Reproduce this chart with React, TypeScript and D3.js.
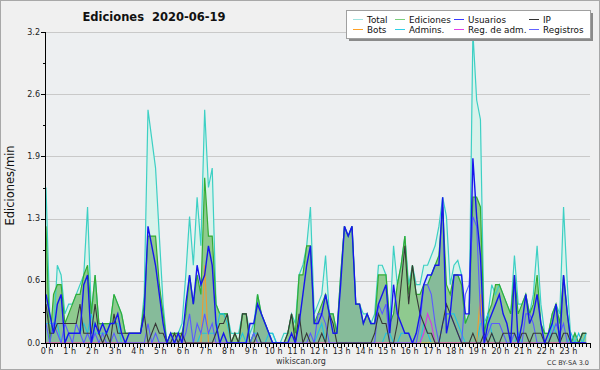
import React from "react";
import * as d3 from "d3";

// 10-minute bins, 144 per day (values in edits/min)
const TOTAL = [
  1.6, 0.3, 0.1, 0.8, 0.7, 0.3,
  0.4, 0.4, 0.5, 0.6, 0.7, 1.4,
  0.3, 0.7, 0.2, 0.2, 0.2, 0.2,
  0.5, 0.4, 0.3, 0.1, 0.1, 0.1,
  0.1, 0.1, 0.5, 2.4, 2.1, 1.8,
  1.1, 0.4, 0.0, 0.1, 0.1, 0.1,
  0.2, 0.7, 1.3, 0.8, 1.5, 1.0,
  2.4, 1.6, 1.8, 0.4, 0.3, 0.3,
  0.3, 0.1, 0.1, 0.1, 0.3, 0.3,
  0.1, 0.2, 0.5, 0.3, 0.2, 0.1,
  0.1, 0.0, 0.0, 0.1, 0.1, 0.3,
  0.2, 0.7, 0.8, 1.0, 1.4, 0.3,
  0.4, 0.5, 0.9, 0.3, 0.3, 0.1,
  0.7, 1.2, 1.1, 1.2, 0.4, 0.4,
  0.3, 0.3, 0.2, 0.3, 0.8, 0.8,
  0.7, 0.2, 1.0, 0.6, 0.8, 1.1,
  0.6, 0.8, 0.6, 0.6, 0.8, 0.8,
  0.9, 1.0, 1.2, 1.5, 1.3, 0.6,
  0.8, 0.85, 0.7, 0.2, 0.3, 3.2,
  2.5, 2.3, 0.1, 0.3, 0.6, 0.5,
  0.6, 0.5, 0.4, 0.3, 0.9, 0.4,
  0.4, 0.5, 0.3, 0.5, 1.0, 0.4,
  0.1, 0.1, 0.3, 0.4, 0.3, 1.4,
  0.6, 0.0, 0.1, 0.0, 0.1, 0.1,
];

const EDICIONES = [
  1.2, 0.0, 0.5, 0.6, 0.6, 0.2,
  0.3, 0.4, 0.5, 0.5, 0.7, 0.8,
  0.3, 0.7, 0.2, 0.2, 0.2, 0.2,
  0.5, 0.4, 0.3, 0.1, 0.1, 0.1,
  0.1, 0.1, 0.4, 1.1, 1.1, 1.1,
  0.6, 0.3, 0.0, 0.1, 0.1, 0.1,
  0.1, 0.3, 0.7, 0.4, 0.7, 0.5,
  1.7, 1.1, 1.1, 0.4, 0.3, 0.3,
  0.3, 0.0, 0.1, 0.0, 0.3, 0.3,
  0.0, 0.1, 0.5, 0.3, 0.2, 0.1,
  0.0, 0.0, 0.0, 0.0, 0.1, 0.3,
  0.1, 0.7, 0.7, 1.0, 1.0, 0.2,
  0.3, 0.4, 0.5, 0.3, 0.3, 0.1,
  0.7, 1.2, 1.1, 1.2, 0.4, 0.4,
  0.2, 0.3, 0.2, 0.2, 0.7, 0.7,
  0.7, 0.2, 0.3, 0.6, 0.8, 1.1,
  0.5, 0.8, 0.5, 0.5, 0.6, 0.6,
  0.7, 0.8, 0.9, 1.4, 0.6, 0.5,
  0.7, 0.7, 0.6, 0.2, 0.3, 1.5,
  1.5, 1.4, 0.1, 0.3, 0.4, 0.6,
  0.6, 0.5, 0.4, 0.3, 0.7, 0.3,
  0.4, 0.5, 0.3, 0.4, 0.7, 0.2,
  0.1, 0.1, 0.3, 0.4, 0.2, 0.7,
  0.3, 0.0, 0.1, 0.0, 0.1, 0.1,
];

const USUARIOS = [
  0.5, 0.3, 0.1, 0.4, 0.5, 0.0,
  0.1, 0.1, 0.1, 0.1, 0.6, 0.7,
  0.0, 0.2, 0.1, 0.2, 0.1, 0.2,
  0.2, 0.3, 0.1, 0.0, 0.1, 0.1,
  0.1, 0.1, 0.3, 1.2, 1.0, 0.8,
  0.5, 0.2, 0.0, 0.1, 0.0, 0.1,
  0.0, 0.4, 0.7, 0.4, 0.8, 0.6,
  0.7, 1.0, 0.8, 0.2, 0.0, 0.1,
  0.0, 0.0, 0.0, 0.0, 0.0, 0.0,
  0.2, 0.2, 0.4, 0.3, 0.2, 0.1,
  0.0, 0.0, 0.0, 0.0, 0.0, 0.1,
  0.0, 0.2, 0.5, 0.8, 1.0, 0.2,
  0.2, 0.3, 0.5, 0.3, 0.1, 0.1,
  0.6, 1.2, 1.1, 1.2, 0.4, 0.4,
  0.2, 0.3, 0.2, 0.2, 0.4, 0.5,
  0.6, 0.1, 0.6, 0.3, 0.2, 0.1,
  0.1, 0.0, 0.1, 0.3, 0.6, 0.7,
  0.7, 0.8, 0.8, 1.5, 0.1, 0.3,
  0.7, 0.7, 0.7, 0.3, 0.3, 1.9,
  1.3, 0.9, 0.0, 0.2, 0.3, 0.4,
  0.5, 0.3, 0.2, 0.0, 0.7, 0.0,
  0.2, 0.5, 0.2, 0.3, 0.5, 0.2,
  0.0, 0.1, 0.2, 0.4, 0.0, 0.7,
  0.3, 0.0, 0.0, 0.0, 0.0, 0.0,
];

const IP = [
  0.4, 0.1, 0.1, 0.2, 0.2, 0.2,
  0.2, 0.2, 0.2, 0.4, 0.1, 0.1,
  0.1, 0.4, 0.1, 0.0, 0.1, 0.0,
  0.3, 0.1, 0.1, 0.1, 0.1, 0.1,
  0.1, 0.1, 0.3, 0.0, 0.1, 0.2,
  0.1, 0.1, 0.0, 0.0, 0.1, 0.0,
  0.1, 0.0, 0.0, 0.0, 0.0, 0.0,
  0.0, 0.0, 0.0, 0.1, 0.2, 0.2,
  0.3, 0.0, 0.1, 0.0, 0.3, 0.3,
  0.0, 0.0, 0.1, 0.0, 0.0, 0.0,
  0.0, 0.0, 0.0, 0.0, 0.1, 0.3,
  0.0, 0.3, 0.0, 0.1, 0.0, 0.0,
  0.0, 0.1, 0.0, 0.3, 0.2, 0.0,
  0.0, 0.0, 0.0, 0.0, 0.0, 0.0,
  0.0, 0.0, 0.0, 0.1, 0.3, 0.2,
  0.2, 0.0, 0.0, 0.2, 0.6, 1.0,
  0.4, 0.8, 0.5, 0.3, 0.2, 0.1,
  0.1, 0.0, 0.0, 0.2, 0.4, 0.3,
  0.2, 0.1, 0.0, 0.0, 0.0, 0.1,
  0.0, 0.0, 0.1, 0.0, 0.1, 0.0,
  0.0, 0.1, 0.1, 0.1, 0.1, 0.0,
  0.1, 0.1, 0.0, 0.1, 0.1, 0.1,
  0.0, 0.0, 0.1, 0.1, 0.0, 0.1,
  0.1, 0.0, 0.0, 0.0, 0.1, 0.1,
];

const BOTS = [
  0, 0, 0, 0, 0, 0,
  0, 0, 0, 0, 0, 0,
  0, 0, 0, 0, 0, 0,
  0, 0, 0, 0, 0, 0,
  0, 0, 0, 0, 0, 0,
  0, 0, 0, 0, 0, 0,
  0, 0, 0, 0, 0, 0,
  0.8, 0, 0, 0, 0, 0,
  0, 0, 0, 0, 0, 0,
  0, 0, 0, 0, 0, 0,
  0, 0, 0, 0, 0, 0,
  0, 0, 0, 0, 0, 0,
  0, 0, 0, 0, 0, 0,
  0, 0, 0, 0, 0, 0,
  0, 0, 0, 0, 0, 0,
  0, 0, 0, 0, 0, 0,
  0, 0, 0, 0, 0, 0,
  0, 0, 0, 0, 0, 0,
  0, 0, 0, 0, 0, 0,
  0, 0.5, 0, 0, 0, 0,
  0, 0, 0, 0, 0, 0,
  0, 0, 0, 0, 0, 0,
  0, 0, 0, 0, 0, 0,
  0, 0, 0, 0, 0, 0,
];

const ADMINS = [
  0.2, 0.2, 0.2, 0.2, 0.0, 0.0,
  0.1, 0.1, 0.1, 0.1, 0.2, 0.1,
  0.3, 0.1, 0.1, 0.1, 0.1, 0.2,
  0.2, 0.2, 0.0, 0.0, 0.0, 0.0,
  0, 0, 0, 0, 0, 0,
  0, 0, 0, 0, 0, 0,
  0, 0, 0, 0, 0, 0.1,
  0.1, 0.1, 0.1, 0.1, 0.3, 0.3,
  0.2, 0.0, 0.0, 0.0, 0.1, 0.0,
  0.0, 0.1, 0.1, 0.0, 0.0, 0.1,
  0.1, 0, 0, 0, 0, 0,
  0, 0, 0, 0, 0, 0,
  0.1, 0.2, 0, 0, 0, 0,
  0, 0, 0, 0, 0, 0,
  0, 0, 0, 0, 0, 0,
  0.1, 0.1, 0, 0, 0.1, 0.1,
  0.1, 0, 0, 0, 0.2, 0.1,
  0, 0, 0, 0.2, 0.3, 0.3,
  0.3, 0.2, 0.1, 0, 0, 0,
  0, 0.2, 0.2, 0.3, 0.1, 0,
  0, 0, 0, 0, 0, 0.1,
  0, 0, 0, 0, 0, 0,
  0, 0, 0.2, 0.1, 0, 0,
  0, 0.1, 0, 0.1, 0, 0.1,
];

const REG_ADM = [
  0, 0, 0, 0, 0, 0,
  0, 0, 0, 0, 0, 0,
  0, 0, 0, 0, 0, 0,
  0, 0, 0, 0, 0, 0,
  0, 0, 0, 0, 0, 0,
  0, 0, 0, 0, 0, 0,
  0, 0, 0, 0, 0, 0,
  0, 0, 0, 0, 0, 0,
  0, 0, 0, 0, 0, 0,
  0, 0, 0, 0, 0, 0,
  0, 0, 0, 0, 0, 0,
  0, 0, 0, 0, 0, 0,
  0, 0, 0, 0, 0, 0,
  0, 0, 0, 0, 0, 0,
  0, 0, 0, 0, 0, 0,
  0, 0, 0, 0, 0, 0,
  0, 0, 0, 0, 0.1, 0.3,
  0.2, 0, 0, 0, 0, 0,
  0, 0, 0, 0, 0, 0,
  0, 0, 0, 0, 0, 0,
  0, 0, 0, 0, 0, 0,
  0, 0, 0, 0, 0, 0,
  0, 0, 0, 0, 0, 0,
  0, 0, 0, 0, 0, 0,
];

const REGISTROS = [
  0.2, 0.0, 0.2, 0.1, 0.0, 0.2,
  0.1, 0.0, 0.2, 0.1, 0.0, 0.1,
  0.0, 0.1, 0.0, 0.1, 0.0, 0.0,
  0.1, 0, 0, 0, 0, 0,
  0, 0, 0, 0.2, 0, 0.1,
  0, 0, 0, 0, 0, 0,
  0, 0.1, 0.3, 0, 0.2, 0.1,
  0.3, 0.1, 0.2, 0, 0, 0,
  0, 0, 0, 0, 0, 0,
  0, 0.1, 0, 0, 0, 0,
  0, 0, 0, 0, 0, 0,
  0, 0, 0, 0, 0.1, 0,
  0.3, 0.3, 0.2, 0, 0, 0,
  0, 0, 0, 0, 0, 0,
  0, 0, 0, 0, 0.4, 0.3,
  0.4, 0, 0, 0, 0, 0,
  0, 0, 0, 0.2, 0.6, 0.6,
  0.5, 0.2, 0, 0.2, 0.3, 0.3,
  0.2, 0.1, 0, 0.5, 0.6, 1.3,
  1.2, 0.3, 0, 0.1, 0.2, 0.2,
  0.2, 0.1, 0, 0, 0.1, 0,
  0, 0.3, 0.3, 0.2, 0, 0,
  0, 0, 0.1, 0.2, 0.1, 0.2,
  0, 0, 0, 0, 0, 0,
];

const HOURS = d3.range(24);
const HOUR_LABELS = HOURS.map((h) => `${h} h`);
const Y_MAX = 3.2;
const Y_TICK_LABELS = ["0.0", "0.6", "1.3", "1.9", "2.6", "3.2"];

const LEGEND = [
  { name: "Total", color: "#9fe3e0" },
  { name: "Ediciones", color: "#7ccf7c" },
  { name: "Usuarios", color: "#3a3aff" },
  { name: "IP", color: "#333333" },
  { name: "Bots", color: "#ffa126" },
  { name: "Admins.", color: "#2fd0e6" },
  { name: "Reg. de adm.", color: "#e040e8" },
  { name: "Registros", color: "#6262ff" },
];

const W = 600;
const H = 370;
const L = 46;
const R = 590;
const T = 32;
const B = 343;
const FONT = "DejaVu Sans";

export default function App() {
  const x = d3.scaleLinear().domain([0, 144]).range([L, R]);
  const y = d3.scaleLinear().domain([0, Y_MAX]).range([B, T]);

  const area = d3
    .area<number>()
    .x((_, i) => x(i))
    .y0(y(0))
    .y1((d) => y(d));
  const line = d3
    .line<number>()
    .x((_, i) => x(i))
    .y((d) => y(d));

  const majorTicks = d3.range(6).map((k) => (k * Y_MAX) / 5);
  const minorTicks = d3.range(5).map((k) => ((k + 0.5) * Y_MAX) / 5);
  const xMinor = d3.range(0, 145);

  const legendCols = [353, 395, 454, 529];
  const legendRows = [19, 29];

  return (
    <div style={{ width: W, height: H }}>
      <style>{`body{margin:0;}`}</style>
      <svg width={W} height={H} style={{ display: "block", fontFamily: FONT }}>
        <rect x={0.5} y={0.5} width={W - 1} height={H - 1} fill="#f0f0f0" stroke="#a8a8a8" />
        <rect x={L} y={T} width={R - L} height={B - T} fill="#edeff1" />

        {majorTicks.slice(1).map((v, k) => (
          <line key={"g" + k} x1={L} x2={R} y1={Math.round(y(v)) + 0.5} y2={Math.round(y(v)) + 0.5} stroke="#c9c9c9" strokeWidth={1} />
        ))}

        {/* fills */}
        <path d={area(TOTAL) || ""} fill="#d9f2eb" />
        <path d={area(EDICIONES) || ""} fill="#8fca8f" />
        <path d={area(USUARIOS) || ""} fill="#3a3aff" fillOpacity={0.1} />

        {/* lines */}
        <path d={line(TOTAL) || ""} fill="none" stroke="#3dd0c4" strokeWidth={1.2} />
        <path d={line(EDICIONES) || ""} fill="none" stroke="#33ac33" strokeWidth={1.2} />
        <path d={line(ADMINS) || ""} fill="none" stroke="#22c2e0" strokeWidth={1.1} />
        <path d={line(BOTS) || ""} fill="none" stroke="#f29a2e" strokeWidth={1.1} />
        <path d={line(REG_ADM) || ""} fill="none" stroke="#d838e0" strokeWidth={1.1} />
        <path d={line(REGISTROS) || ""} fill="none" stroke="#5a5aff" strokeWidth={1.1} />
        <path d={line(IP) || ""} fill="none" stroke="#383838" strokeWidth={1.1} />
        <path d={line(USUARIOS) || ""} fill="none" stroke="#1616ee" strokeWidth={1.4} />

        {/* axes */}
        <line x1={L - 0.5} x2={L - 0.5} y1={T} y2={B + 0.5} stroke="#000" />
        <line x1={L - 0.5} x2={R} y1={B + 0.5} y2={B + 0.5} stroke="#000" />
        {majorTicks.map((v, k) => (
          <g key={"yt" + k}>
            <line x1={L - 5} x2={L} y1={Math.round(y(v)) + 0.5} y2={Math.round(y(v)) + 0.5} stroke="#000" />
            <text x={L - 6} y={y(v) + 2.5} textAnchor="end" fontSize={8} fill="#222">
              {Y_TICK_LABELS[k]}
            </text>
          </g>
        ))}
        {minorTicks.map((v, k) => (
          <line key={"ym" + k} x1={L - 3} x2={L} y1={Math.round(y(v)) + 0.5} y2={Math.round(y(v)) + 0.5} stroke="#000" />
        ))}
        {xMinor.map((i) => (
          <line
            key={"xt" + i}
            x1={Math.round(x(i)) + 0.5}
            x2={Math.round(x(i)) + 0.5}
            y1={B}
            y2={B + (i % 6 === 0 ? 5 : 4)}
            stroke="#000"
          />
        ))}
        {HOURS.map((h) => (
          <text key={"xl" + h} x={x(h * 6) + 1} y={353.5} textAnchor="middle" fontSize={8} fill="#222">
            {HOUR_LABELS[h]}
          </text>
        ))}

        {/* titles */}
        <text x={154} y={21} textAnchor="middle" fontSize={11.5} fontWeight="bold" fill="#111" style={{ whiteSpace: "pre" }}>
          {"Ediciones  2020-06-19"}
        </text>
        <text transform={`translate(14,${(T + B) / 2 - 2}) rotate(-90)`} textAnchor="middle" fontSize={11.5} fill="#111">
          Ediciones/min
        </text>
        <text x={301} y={364} textAnchor="middle" fontSize={8} fill="#333">
          wikiscan.org
        </text>
        <text x={589} y={365} textAnchor="end" fontSize={6.5} fill="#333">
          CC BY-SA 3.0
        </text>

        {/* legend */}
        <rect x={349} y={13} width={244} height={28} fill="#8a8a8a" />
        <rect x={346.5} y={10.5} width={244} height={28} fill="#ffffff" stroke="#a0a0a0" />
        {LEGEND.map((s, k) => {
          const cx = legendCols[k % 4];
          const cy = legendRows[Math.floor(k / 4)];
          return (
            <g key={"lg" + k}>
              <line x1={cx} x2={cx + 10} y1={cy + 0.5} y2={cy + 0.5} stroke={s.color} strokeWidth={1} />
              <text x={cx + 14} y={cy + 3.5} fontSize={8.8} fill="#111">
                {s.name}
              </text>
            </g>
          );
        })}
      </svg>
    </div>
  );
}
